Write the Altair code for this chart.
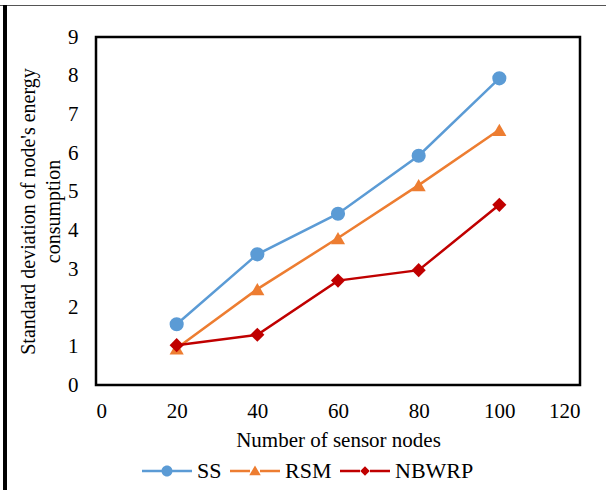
import altair as alt
import pandas as pd

nodes = [20, 40, 60, 80, 100]
ss = [1.57, 3.38, 4.43, 5.93, 7.93]
rsm = [0.95, 2.48, 3.80, 5.17, 6.60]
nbwrp = [1.03, 1.30, 2.70, 2.97, 4.66]
series = ["SS", "RSM", "NBWRP"]
colors = ["#5B9BD5", "#ED7D31", "#C00000"]
x_ticks = [0, 20, 40, 60, 80, 100, 120]
y_ticks = [0, 1, 2, 3, 4, 5, 6, 7, 8, 9]

rows = []
for name, vals in zip(series, [ss, rsm, nbwrp]):
    for n, v in zip(nodes, vals):
        rows.append({"nodes": n, "value": v, "series": name})
df = pd.DataFrame(rows)

FONT = "Liberation Serif"
W, H = 484, 348

x = alt.X("nodes:Q", scale=alt.Scale(domain=[0, 120], nice=False),
          axis=alt.Axis(values=x_ticks, title="Number of sensor nodes", grid=False,
                        domain=False, ticks=False, labelPadding=15, titlePadding=8,
                        labelFontSize=21, titleFontSize=21, labelFont=FONT, titleFont=FONT,
                        titleFontWeight="normal", labelColor="#000", titleColor="#000"))
y = alt.Y("value:Q", scale=alt.Scale(domain=[0, 9], nice=False),
          axis=alt.Axis(values=y_ticks, title=["Standard deviation of node's energy", "consumption"],
                        grid=False, domain=False, ticks=False, labelPadding=18, titlePadding=4,
                        labelFontSize=21, titleFontSize=20, labelFont=FONT, titleFont=FONT,
                        titleLineHeight=25,
                        titleFontWeight="normal", labelColor="#000", titleColor="#000"))

color_plain = alt.Color("series:N", scale=alt.Scale(domain=series, range=colors), legend=None)

line = alt.Chart(df).mark_line(strokeWidth=2.5).encode(x=x, y=y, color=color_plain)
points = alt.Chart(df).mark_point(filled=True, opacity=1, size=200).encode(
    x=x, y=y, color=color_plain,
    shape=alt.Shape("series:N", scale=alt.Scale(domain=series, range=["circle", "triangle-up", "diamond"]), legend=None),
)

seg = "M-1,-0.05H-0.2V0.05H-1Z M0.2,-0.05H1V0.05H0.2Z "
leg_paths = [
    seg + "M-0.22,0A0.22,0.22 0 1,1 0.22,0A0.22,0.22 0 1,1 -0.22,0Z",
    seg + "M0,-0.22L0.23,0.17L-0.23,0.17Z",
    seg + "M0,-0.19L0.19,0L0,0.19L-0.19,0Z",
]
legend_cfg = alt.Legend(title=None, orient="none", direction="horizontal", symbolSize=2500,
                        legendX=46, legendY=409,
                        symbolStrokeWidth=0, symbolOpacity=1, labelFont=FONT, labelFontSize=22,
                        labelColor="#000", columnPadding=8, labelOffset=5)
leg_layer = alt.Chart(df).mark_point(filled=True, opacity=0, size=1).encode(
    x=x, y=y,
    color=alt.Color("series:N", scale=alt.Scale(domain=series, range=colors), legend=legend_cfg),
    shape=alt.Shape("series:N", scale=alt.Scale(domain=series, range=leg_paths), legend=legend_cfg),
)

frame_top = alt.Chart(df).mark_rule(color="#555", strokeWidth=1).encode(
    x=alt.value(-96), x2=alt.value(W + 30), y=alt.value(-31.5))
frame_left = alt.Chart(df).mark_rule(color="#000", strokeWidth=2.5).encode(
    x=alt.value(-91), y=alt.value(-32), y2=alt.value(H + 110))

chart = alt.layer(frame_top, frame_left, line, points, leg_layer).resolve_scale(
    color="independent", shape="independent"
).properties(
    width=W, height=H,
    autosize=alt.AutoSizeParams(type="none"),
    padding={"left": 96, "top": 37, "right": 26, "bottom": 105},
    background="white",
).configure_view(stroke="#000", strokeWidth=2.5).configure_legend(
    labelFont=FONT, labelFontSize=22, labelColor="#000"
)

chart.save("out.html", embed_options={"renderer": "svg", "actions": False})
